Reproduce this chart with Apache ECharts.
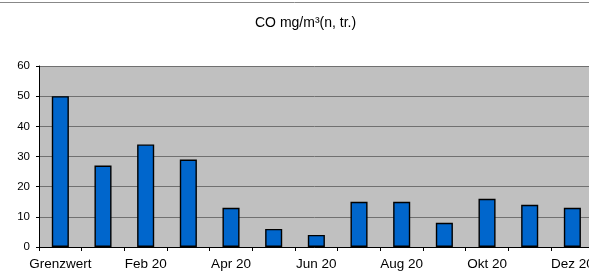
<!DOCTYPE html>
<html>
<head>
<meta charset="utf-8">
<script src="https://cdn.jsdelivr.net/npm/echarts@6/dist/echarts.min.js"></script>
<style>
html,body{margin:0;padding:0;background:#fff;}
#c{width:589px;height:279px;}
</style>
</head>
<body>
<div id="c"></div>
<script>
const titleText = 'CO mg/m³(n, tr.)';
const categories = ['Grenzwert','Jan 20','Feb 20','Mar 20','Apr 20','Mai 20','Jun 20','Jul 20','Aug 20','Sep 20','Okt 20','Nov 20','Dez 20'];
const values = [50, 27, 34, 29, 13, 6, 4, 15, 15, 8, 16, 14, 13];
const yTicks = [0, 10, 20, 30, 40, 50, 60];

const chart = echarts.init(document.getElementById('c'), null, {renderer:'canvas'});
chart.setOption({
  animation: false,
  backgroundColor: '#ffffff',
  title: {
    text: titleText,
    left: 250,
    top: 11,
    textStyle: {fontFamily: 'Liberation Sans, Arial, sans-serif', fontSize: 14, fontWeight: 'normal', color: '#000'}
  },
  graphic: [{
    type: 'line', shape: {x1: 0, y1: 2.5, x2: 589, y2: 2.5},
    style: {stroke: '#888', lineWidth: 1}
  }],
  grid: {left: 39, top: 66, width: 554.7, height: 181, containLabel: false, outerBoundsMode: 'none', show: true, backgroundColor: '#c0c0c0', borderWidth: 0},
  xAxis: {
    type: 'category',
    data: categories,
    axisLine: {lineStyle: {color: '#000', width: 1}},
    axisTick: {show: true, alignWithLabel: false, interval: 0, length: 4, inside: false, lineStyle: {color: '#000'}},
    axisLabel: {interval: 1, fontFamily: 'Liberation Sans, Arial, sans-serif', fontSize: 13.5, color: '#000', margin: 10, hideOverlap: false}
  },
  yAxis: {
    type: 'value',
    min: yTicks[0], max: yTicks[yTicks.length-1], interval: 10,
    axisLine: {show: true, lineStyle: {color: '#000', width: 1}},
    axisTick: {show: true, length: 3, lineStyle: {color: '#000'}},
    axisLabel: {fontFamily: 'Liberation Sans, Arial, sans-serif', fontSize: 11.5, color: '#000', margin: 9},
    splitLine: {show: true, lineStyle: {color: '#707070', width: 1}}
  },
  series: [{
    type: 'bar',
    data: values,
    barWidth: '40%',
    itemStyle: {color: '#0066cc', borderColor: '#000', borderWidth: 1.4}
  }]
});
</script>
</body>
</html>
